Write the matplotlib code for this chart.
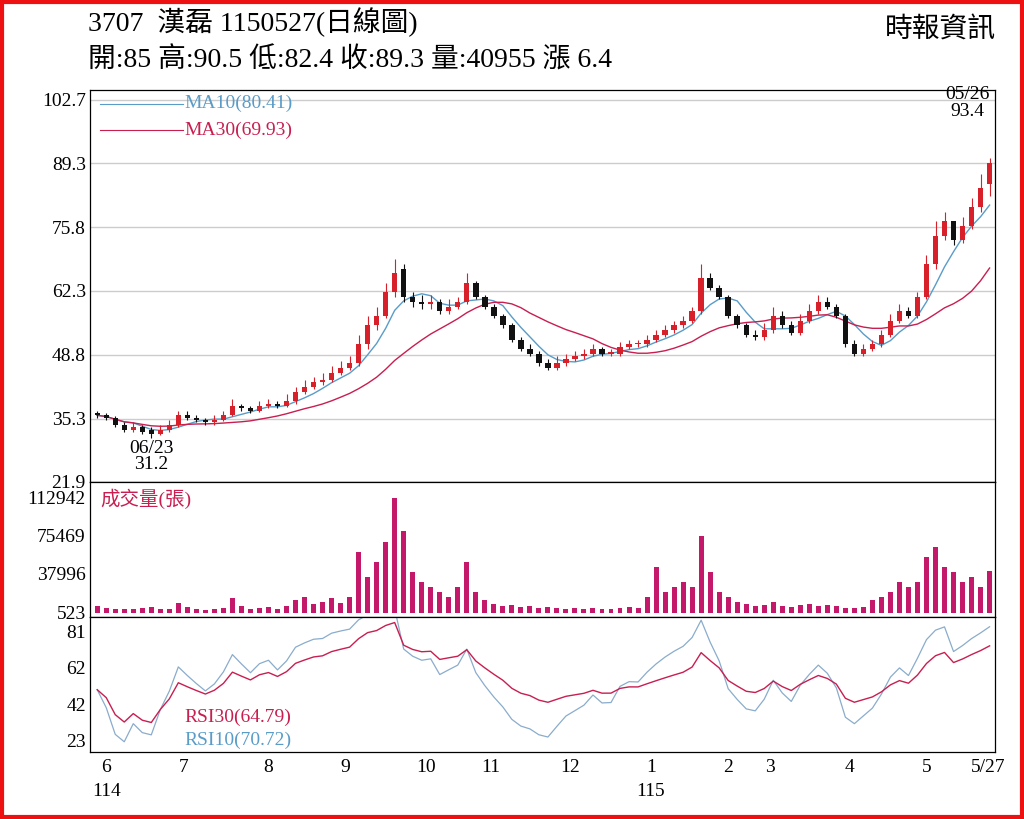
import matplotlib
matplotlib.use("Agg")
import matplotlib.pyplot as plt
import numpy as np
import pandas as pd
from matplotlib.patches import Rectangle

plt.rcParams['font.family'] = ['Liberation Serif', 'Noto Sans CJK TC', 'DejaVu Sans']

closes = [36,35.5,34,33,33.5,32.5,32,33,34,36,
          35.5,35,34.5,35,36,38,37.5,37,38,38.5,
          38,39,41,42,43,43.5,45,46,47,51,
          55,57,62,66,61,60,59.5,60,58,59,
          60,64,61,59,57,55,52,50,49,47,
          46,47,48,48.5,49,50,49,49,50.5,51,
          51,52,53,54,55,56,58,65,63,61,
          57,55,53,52.5,54,57,55,53.5,56,58,
          60,59,57,51,49,50,51,53,56,58,
          57,61,68,74,77,73,76,80,84,89.3]
opens = [36.5,36,35.5,34,33,33.5,33,32,33,34,
         36,35.5,35,34.5,35,36,38,37.5,37,38,
         38.5,38,39,41,42,43,43.5,45,46,47,
         51,55,57,62,67,61,60,59.5,60,58,
         59,60,64,61,59,57,55,52,50,49,
         47,46,47,48,48.5,49,50,49,49,50.5,
         51,51,52,53,54,55,56,58,65,63,
         61,57,55,53,52.5,54,57,55,53.5,56,
         58,60,59,57,51,49,50,51,53,56,
         58,57,61,68,74,77,73,76,80,85]
highs = [37,36.5,35.8,34.5,34.5,34,33.5,34,35,37,
         37,36,35.5,36,37,39.5,38.5,38,39,39.5,
         39,40.5,42,43.5,44,45,46.5,47.5,48.5,53,
         57,59,64,69,68,62,61.5,61.5,60.5,60.5,
         61,66,64.5,61.5,59.5,57.5,55.5,52.5,51,49.5,
         48,48.5,49,49.5,50,51,50.5,50,51.5,52,
         52,53,54,55,56,57,59,68,66,63.5,
         61.5,57.5,55.5,54,55.5,59,58,56,57.5,59.5,
         61.5,61,59.5,57.5,52,51,52,54,57.5,59.5,
         59,62,70,77,79,77,78,82,87,90.5]
lows = [35.5,35,33.5,32.5,32.5,32,31.2,31.8,32.5,33.5,
        35,34.5,34,34,34.8,35.8,37,36.5,36.8,37.5,
        37.5,37.8,38.5,40.5,41.5,42.5,43,44.5,45.5,46.5,
        50,54,56.5,61,60,59,58.5,58.5,57.5,57.5,
        58.5,59.5,60.5,58.5,56.5,54.5,51.5,49.5,48.5,46.5,
        45.5,45.5,46.5,47.5,48,48.5,48.5,48.5,48.5,50,
        50.5,50.5,51.5,52.5,53.5,54.5,55.5,57.5,62.5,60.5,
        56.5,54.5,52.5,52,52,53.5,54.5,53,53,55.5,
        57.5,58.5,56.5,50.5,48.5,48.5,49.5,50.5,52.5,55.5,
        56.5,56.5,60.5,67,73,72,72.5,75.5,79,82.4]
volumes = [6000,4000,3000,3500,3000,4000,5000,3000,3500,9000,
           5000,3000,2500,3000,4000,14000,6000,3000,4000,5000,
           3000,6000,12000,15000,8000,10000,14000,9000,15000,60000,
           35000,50000,70000,112942,80000,40000,30000,25000,20000,15000,
           25000,50000,20000,12000,8000,6000,7000,5000,6000,4000,
           5000,4000,3000,4000,3000,4000,3000,3000,4000,5000,
           4000,15000,45000,20000,25000,30000,25000,75469,40000,20000,
           15000,10000,8000,6000,7000,10000,6000,5000,7000,8000,
           6000,7000,6000,4000,4000,5000,12000,15000,20000,30000,
           25000,30000,55000,65000,45000,40000,30000,35000,25000,40955]
month_labels = ['6','7','8','9','10','11','12','1','2','3','4','5','5/27']
month_pos = [1,9.6,19,27.5,36.5,43.6,52.5,61.4,70,74.6,83.5,92,98.8]
price_ticks = [21.9,35.3,48.8,62.3,75.8,89.3,102.7]
vol_ticks = [523,37996,75469,112942]
rsi_ticks = [23,42,62,81]

RED = '#d8202a'
MA10C = '#5a9cc8'
MA30C = '#c81e50'
VOLC = '#c4186a'

c = pd.Series(closes, dtype=float)
ma10 = c.rolling(5, min_periods=1).mean()
ma30 = c.rolling(15, min_periods=1).mean()

def rsi(s, n, start):
    d = s.diff().fillna(0)
    up = d.clip(lower=0).ewm(alpha=1/n, adjust=False).mean() + 0.15
    dn = (-d.clip(upper=0)).ewm(alpha=1/n, adjust=False).mean() + 0.15
    r = 100 - 100/(1 + up/dn)
    return r
r10 = rsi(c, 7, 40)
r30 = rsi(c, 18, 40)

fig = plt.figure(figsize=(10.24, 8.19), dpi=100)
fig.patches.append(Rectangle((0.002, 0.003), 0.996, 0.994, transform=fig.transFigure,
                             fill=False, edgecolor='#ee1111', linewidth=3))
L, W = 90/1024, 905/1024
ax1 = fig.add_axes([L, (819-482)/819, W, (482-90)/819])
ax2 = fig.add_axes([L, (819-617)/819, W, 135/819], sharex=ax1)
ax3 = fig.add_axes([L, (819-752)/819, W, 135/819], sharex=ax1)

x = np.arange(len(closes))
for i in x:
    o, cl, h, l = opens[i], closes[i], highs[i], lows[i]
    col = RED if cl >= o else '#111111'
    ax1.vlines(i, l, h, color=col, linewidth=0.8, zorder=3)
    ax1.bar(i, max(abs(cl - o), 0.3), bottom=min(o, cl), width=0.6, color=col, zorder=4)
ax1.plot(x, ma10, color=MA10C, lw=1.0, zorder=2)
ax1.plot(x, ma30, color=MA30C, lw=1.0, zorder=2)
ax1.set_ylim(21.9, 104.8)
ax1.set_yticks(price_ticks)
ax1.set_yticklabels([str(t) for t in price_ticks])
ax1.grid(axis='y', color='#cccccc', lw=1)
ax1.plot([0.3, 9.5], [101.9, 101.9], color=MA10C, lw=0.8)
ax1.plot([0.3, 9.5], [96.3, 96.3], color=MA30C, lw=0.8)
ax1.text(9.7, 101.9, 'MA10(80.41)', color=MA10C, fontsize=14, va='center')
ax1.text(9.7, 96.3, 'MA30(69.93)', color=MA30C, fontsize=14, va='center')
ax1.text(96.5, 98.5, '05/26\n93.4', fontsize=14, ha='center', va='bottom', linespacing=0.95)
ax1.text(6, 30.8, '06/23\n31.2', fontsize=14, ha='center', va='top', linespacing=0.95)

ax2.bar(x, volumes, width=0.55, color=VOLC)
ax2.set_ylim(-4400, 128700)
ax2.set_yticks(vol_ticks)
ax2.set_yticklabels([str(t) for t in vol_ticks])
ax2.text(0.3, 112000, '成交量(張)', color=MA30C, fontsize=14, va='center')

ax3.plot(x, r10, color='#8aaccc', lw=0.9)
ax3.plot(x, r30, color=MA30C, lw=1.0)
ax3.set_ylim(16.6, 89)
ax3.set_yticks(rsi_ticks)
ax3.set_yticklabels([str(t) for t in rsi_ticks])
ax3.text(9.7, 35, 'RSI30(64.79)', color=MA30C, fontsize=14, va='center')
ax3.text(9.7, 23, 'RSI10(70.72)', color=MA10C, fontsize=14, va='center')

ax1.set_xlim(-0.8, 99.6)
for a in (ax1, ax2, ax3):
    a.tick_params(axis='both', length=0, labelsize=14, pad=3)
    for s in a.spines.values():
        s.set_linewidth(0.9)
for a in (ax1, ax2):
    plt.setp(a.get_xticklabels(), visible=False)
ax3.set_xticks(month_pos)
ax3.set_xticklabels(month_labels)
ax3.tick_params(axis='x', pad=5)
ax3.text(1, -0.23, '114', transform=ax3.get_xaxis_transform(), fontsize=14, ha='center', va='top')
ax3.text(61.4, -0.23, '115', transform=ax3.get_xaxis_transform(), fontsize=14, ha='center', va='top')

fig.text(88/1024, 1-22/819, '3707  漢磊 1150527(日線圖)', fontsize=20, va='center')
fig.text(88/1024, 1-60/819, '開:85 高:90.5 低:82.4 收:89.3 量:40955 漲 6.4', fontsize=20, va='center')
fig.text(996/1024, 1-30/819, '時報資訊', fontsize=20, va='center', ha='right')

fig.savefig('out.png', dpi=100)
